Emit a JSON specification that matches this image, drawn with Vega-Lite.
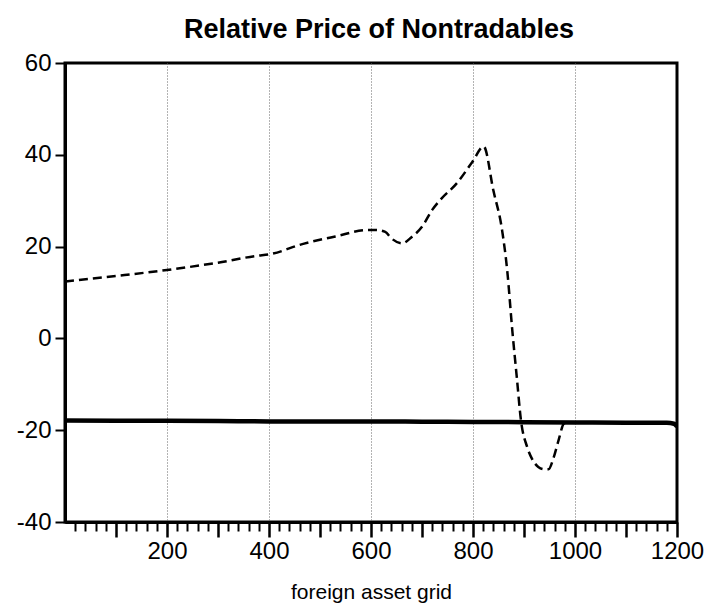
{
  "$schema": "https://vega.github.io/schema/vega-lite/v6.json",
  "width": 612,
  "height": 459,
  "autosize": "none",
  "padding": {"left": 65, "top": 63, "right": 46, "bottom": 85},
  "background": "white",
  "config": {
    "view": {"stroke": "black", "strokeWidth": 3},
    "font": "Liberation Sans"
  },
  "title": {
    "text": "Relative Price of Nontradables",
    "font": "Liberation Sans",
    "fontSize": 27,
    "fontWeight": "bold",
    "color": "black",
    "anchor": "middle",
    "frame": "group",
    "baseline": "alphabetic",
    "offset": 23,
    "dy": 37,
    "dx": 8
  },
  "datasets": {
    "solid": [
      {"x": 0, "y": -17.9},
      {"x": 100, "y": -17.95},
      {"x": 200, "y": -17.95},
      {"x": 300, "y": -18.0},
      {"x": 400, "y": -18.1},
      {"x": 500, "y": -18.1},
      {"x": 600, "y": -18.1},
      {"x": 700, "y": -18.15},
      {"x": 800, "y": -18.2},
      {"x": 900, "y": -18.25},
      {"x": 1000, "y": -18.3},
      {"x": 1100, "y": -18.35},
      {"x": 1180, "y": -18.4},
      {"x": 1194, "y": -18.6},
      {"x": 1200, "y": -19.2}
    ],
    "dashed": [
      {"x": 0, "y": 12.4},
      {"x": 100, "y": 13.6},
      {"x": 200, "y": 14.9},
      {"x": 300, "y": 16.5},
      {"x": 377, "y": 18.0},
      {"x": 400, "y": 18.3},
      {"x": 467, "y": 20.6},
      {"x": 530, "y": 22.2},
      {"x": 593, "y": 23.6},
      {"x": 610, "y": 23.6},
      {"x": 628, "y": 23.2},
      {"x": 640, "y": 21.8},
      {"x": 661, "y": 20.7},
      {"x": 680, "y": 22.1},
      {"x": 700, "y": 24.3},
      {"x": 720, "y": 28.0},
      {"x": 736, "y": 30.2},
      {"x": 769, "y": 33.9},
      {"x": 799, "y": 38.5},
      {"x": 821, "y": 41.8},
      {"x": 840, "y": 32.2},
      {"x": 857, "y": 23.6},
      {"x": 867, "y": 14.9},
      {"x": 877, "y": 1.8},
      {"x": 886, "y": -8.6},
      {"x": 894, "y": -17.8},
      {"x": 906, "y": -23.6},
      {"x": 916, "y": -26.3},
      {"x": 928, "y": -28.0},
      {"x": 940, "y": -28.5},
      {"x": 948, "y": -28.5},
      {"x": 958, "y": -26.0},
      {"x": 968, "y": -22.1},
      {"x": 978, "y": -18.6},
      {"x": 985, "y": -18.3}
    ]
  },
  "encoding": {
    "y": {
      "field": "y",
      "type": "quantitative",
      "scale": {"domain": [-40, 60], "nice": false, "zero": false},
      "axis": {
        "values": [-40, -20, 0, 20, 40, 60],
        "labelExpr": "'' + datum.value",
        "title": null,
        "grid": false,
        "domainColor": "black",
        "domainWidth": 3,
        "tickColor": "black",
        "tickWidth": 2,
        "tickSize": 10,
        "labelPadding": 4,
        "labelFont": "Liberation Sans",
        "labelFontSize": 24,
        "labelColor": "black"
      }
    }
  },
  "layer": [
    {
      "data": {"name": "solid"},
      "mark": {"type": "line", "color": "black", "strokeWidth": 4.5, "interpolate": "monotone", "clip": true},
      "encoding": {
        "x": {
          "field": "x",
          "type": "quantitative",
          "scale": {"domain": [0, 1200], "nice": false, "zero": false},
          "axis": {
            "orient": "bottom",
            "values": [20, 40, 60, 80, 120, 140, 160, 180, 220, 240, 260, 280, 320, 340, 360, 380, 420, 440, 460, 480, 520, 540, 560, 580, 620, 640, 660, 680, 720, 740, 760, 780, 820, 840, 860, 880, 920, 940, 960, 980, 1020, 1040, 1060, 1080, 1120, 1140, 1160, 1180],
            "title": null,
            "labels": false,
            "grid": false,
            "domainColor": "black",
            "domainWidth": 3,
            "tickColor": "black",
            "tickWidth": 2,
            "tickSize": 9
          }
        }
      }
    },
    {
      "data": {"name": "dashed"},
      "mark": {"type": "line", "color": "black", "strokeWidth": 2.5, "strokeDash": [9, 5], "interpolate": "monotone", "clip": true},
      "encoding": {
        "x": {
          "field": "x",
          "type": "quantitative",
          "scale": {"domain": [0, 1200], "nice": false, "zero": false},
          "axis": {
            "orient": "bottom",
            "values": [100, 200, 300, 400, 500, 600, 700, 800, 900, 1000, 1100, 1200],
            "labelExpr": "datum.value % 200 == 0 ? '' + datum.value : ''",
            "title": "foreign asset grid",
            "titleFont": "Liberation Sans",
            "titleFontSize": 21,
            "titleFontWeight": "normal",
            "titleColor": "black",
            "titlePadding": 18,
            "grid": true,
            "gridColor": "#666666",
            "gridDash": [1, 2],
            "gridWidth": 1,
            "gridOpacity": {"condition": {"test": "datum.value % 200 == 0 && datum.value < 1200", "value": 1}, "value": 0},
            "domainColor": "black",
            "domainWidth": 3,
            "tickColor": "black",
            "tickWidth": 2.5,
            "tickSize": 15,
            "labelPadding": 2,
            "labelFont": "Liberation Sans",
            "labelFontSize": 24,
            "labelColor": "black",
            "labelFlush": false,
            "labelOverlap": false
          }
        }
      }
    }
  ],
  "resolve": {"axis": {"x": "independent"}}
}
